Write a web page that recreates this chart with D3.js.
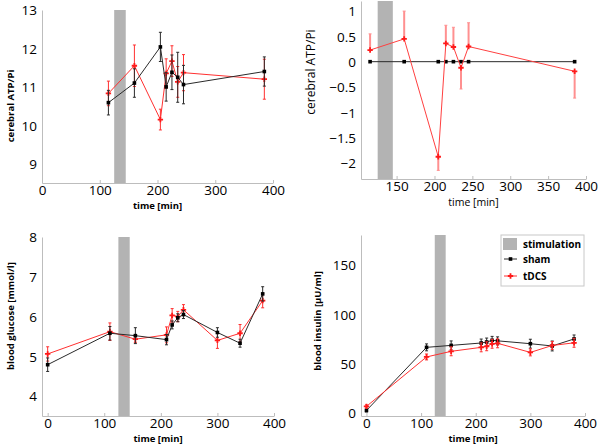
<!DOCTYPE html>
<html><head><meta charset="utf-8">
<script src="https://cdn.jsdelivr.net/npm/d3@7"></script>
<style>body{margin:0;background:#fff}svg{display:block}text{font-family:"Open Sans","DejaVu Sans",sans-serif}</style>
</head><body><svg id="c" width="600" height="445"></svg>
<script>
// ---- data ----
const atpTime = [115,160,205,215,225,235,245,385];
const atpSham = [10.59,11.1,12.04,11.0,11.38,11.25,11.06,11.4];
const atpShamErr = [0.32,0.37,0.38,0.37,0.45,0.65,0.5,0.38];
const atpTdcs = [10.83,11.55,10.15,11.35,11.67,11.13,11.37,11.2];
const atpTdcsErr = [0.32,0.54,0.27,0.38,0.4,0.4,0.47,0.52];

const diffSham = [0,0,0,0,0,0,0,0];
const diffTdcs = [0.23,0.45,-1.88,0.36,0.29,-0.12,0.3,-0.19];
const diffTdcsErr = [0.32,0.55,0.27,0.36,0.39,0.42,0.47,0.53];

const bloodTime = [0,110,155,210,220,230,240,300,340,380];
const gluSham = [4.79,5.58,5.52,5.42,5.79,5.97,6.05,5.6,5.33,6.57];
const gluShamErr = [0.17,0.17,0.2,0.13,0.1,0.1,0.1,0.12,0.1,0.18];
const gluTdcs = [5.06,5.62,5.43,5.54,6.03,6.0,6.17,5.4,5.58,6.4];
const gluTdcsErr = [0.18,0.22,0.08,0.2,0.17,0.13,0.13,0.2,0.22,0.18];

const insSham = [2.6,66.4,68.4,70.8,71.8,73.5,73.0,70.1,67.8,74.9];
const insShamErr = [1.5,3.5,4.5,4,4,4,4,4.5,5,4];
const insTdcs = [6.7,56.7,62.4,66.4,67.5,70.0,70.5,61.3,68.3,71.0];
const insTdcsErr = [1.5,3,4.5,4.5,4.5,4.5,4.5,3.5,4,4.5];

const stimulation = [125,145];
const legendLabels = ["stimulation","sham","tDCS"];

const svg = d3.select("#c");
const AX = "#bdbdbd";

function panel(o){
  const g = svg.append("g");
  const x = d3.scaleLinear().domain(o.xd).range([o.x0,o.x1]);
  const y = d3.scaleLinear().domain(o.yd).range([o.y1,o.y0]);
  g.append("rect").attr("x",x(stimulation[0])).attr("width",x(stimulation[1])-x(stimulation[0]))
    .attr("y",o.y0).attr("height",o.y1-o.y0).attr("fill","#b3b3b3");
  const xa = g.append("g").attr("transform",`translate(0,${o.y1})`)
    .call(d3.axisBottom(x).tickValues(o.xt).tickSize(-3).tickPadding(2.5).tickSizeOuter(0));
  const ya = g.append("g").attr("transform",`translate(${o.x0},0)`)
    .call(d3.axisLeft(y).tickValues(o.yt).tickSize(0).tickPadding(5).tickFormat(o.yf||d3.format("")));
  [xa,ya].forEach(a=>{
    a.select(".domain").attr("stroke",AX);
    a.selectAll(".tick line").attr("stroke",AX);
    a.selectAll("text").attr("font-size",13.5).attr("fill","#000");
  });
  xa.selectAll("text").attr("dy","0.71em");
  ya.selectAll("text").attr("dy","0.36em");
  g.append("text").attr("x",(o.x0+o.x1)/2).attr("y",o.xty).attr("text-anchor","middle")
    .attr("font-size",o.xfs).attr("font-weight",o.bold?"bold":"normal").text("time [min]");
  g.append("text").attr("transform",`translate(${o.ytx},${o.yty}) rotate(-90)`).attr("text-anchor","middle")
    .attr("font-size",o.yfs).attr("font-weight",o.bold?"bold":"normal").text(o.ylab);
  o.series.forEach(s=>{
    const pts = o.t.map((t,i)=>({t,v:s.v[i],e:s.e?s.e[i]:0}));
    if(s.e){
      pts.forEach(p=>{
        let lo=p.v-p.e, hi=p.v+p.e;
        if(s.oneSided){ if(p.v>=0){lo=p.v;} else {hi=p.v;} }
        g.append("line").attr("x1",x(p.t)).attr("x2",x(p.t)).attr("y1",y(lo)).attr("y2",y(hi))
          .attr("stroke",s.ec).attr("stroke-width",s.ew||1);
        [lo,hi].forEach(vv=>{ if(vv!==p.v) g.append("line").attr("x1",x(p.t)-1.5).attr("x2",x(p.t)+1.5)
          .attr("y1",y(vv)).attr("y2",y(vv)).attr("stroke",s.ec).attr("stroke-width",1);});
      });
    }
    g.append("path").datum(pts).attr("fill","none").attr("stroke",s.c).attr("stroke-width",1)
      .attr("d",d3.line().x(p=>x(p.t)).y(p=>y(p.v)));
    g.selectAll(null).data(pts).enter().append("path")
      .attr("transform",p=>`translate(${x(p.t)},${y(p.v)})`)
      .attr("d",d3.symbol().type(s.sym).size(s.size)).attr("fill",s.mc);
  });
  return {x,y};
}

const red = {c:"#ff3030",ec:"#ff3030",mc:"#ff1a1a",sym:d3.symbolCross,size:16};
const blk = {c:"#2a2a2a",ec:"#2a2a2a",mc:"#000",sym:d3.symbolSquare,size:13};

panel({x0:42,x1:273,y0:10,y1:183,xd:[0,400],yd:[8.5,13],xt:[0,100,200,300,400],yt:[9,10,11,12,13],
  xty:209,xfs:9.5,ytx:14,yty:106,yfs:9.5,bold:true,ylab:"cerebral ATP/Pi",t:atpTime,
  series:[Object.assign({v:atpTdcs,e:atpTdcsErr},red),Object.assign({v:atpSham,e:atpShamErr},blk)]});

panel({x0:361,x1:586,y0:1,y1:179,xd:[103,400],yd:[-2.32,1.2],xt:[150,200,250,300,350,400],yt:[-2,-1.5,-1,-0.5,0,0.5,1],
  yf:d3.format("~g"),xty:206,xfs:10.5,ytx:315,yty:72,yfs:12,bold:false,ylab:"cerebral ATP/Pi",t:atpTime,
  series:[Object.assign({v:diffSham},blk),Object.assign({v:diffTdcs,e:diffTdcsErr,oneSided:true},red,{ec:"#ff9090",ew:2,c:"#ff4040"})]});

panel({x0:42,x1:274,y0:237,y1:416,xd:[-10,400],yd:[3.5,8],xt:[0,100,200,300,400],yt:[4,5,6,7,8],
  xty:442,xfs:9.5,ytx:14,yty:316,yfs:9.5,bold:true,ylab:"blood glucose [mmol/l]",t:bloodTime,
  series:[Object.assign({v:gluTdcs,e:gluTdcsErr},red),Object.assign({v:gluSham,e:gluShamErr},blk)]});

panel({x0:361,x1:585,y0:235,y1:416,xd:[-10,400],yd:[-3,180],xt:[0,100,200,300,400],yt:[0,50,100,150],
  xty:442,xfs:9.5,ytx:321,yty:321,yfs:9.5,bold:true,ylab:"blood insulin [\u00b5U/ml]",t:bloodTime,
  series:[Object.assign({v:insSham,e:insShamErr},blk),Object.assign({v:insTdcs,e:insTdcsErr},red)]});

// legend
const lg = svg.append("g");
lg.append("rect").attr("x",501).attr("y",235).attr("width",83).attr("height",51).attr("fill","#fff").attr("stroke","#c8c8c8");
lg.append("rect").attr("x",503).attr("y",238).attr("width",14).attr("height",12).attr("fill","#b3b3b3");
[[blk,259],[red,276]].forEach(([s,yy])=>{
  lg.append("line").attr("x1",504).attr("x2",517).attr("y1",yy).attr("y2",yy).attr("stroke",s.c);
  lg.append("path").attr("transform",`translate(510.5,${yy})`).attr("d",d3.symbol().type(s.sym).size(s.size)).attr("fill",s.mc);
});
legendLabels.forEach((t,i)=>lg.append("text").attr("x",523).attr("y",[244,259,276][i]).attr("dy","0.35em")
  .attr("font-size",10).attr("font-weight","bold").text(t));
</script></body></html>
